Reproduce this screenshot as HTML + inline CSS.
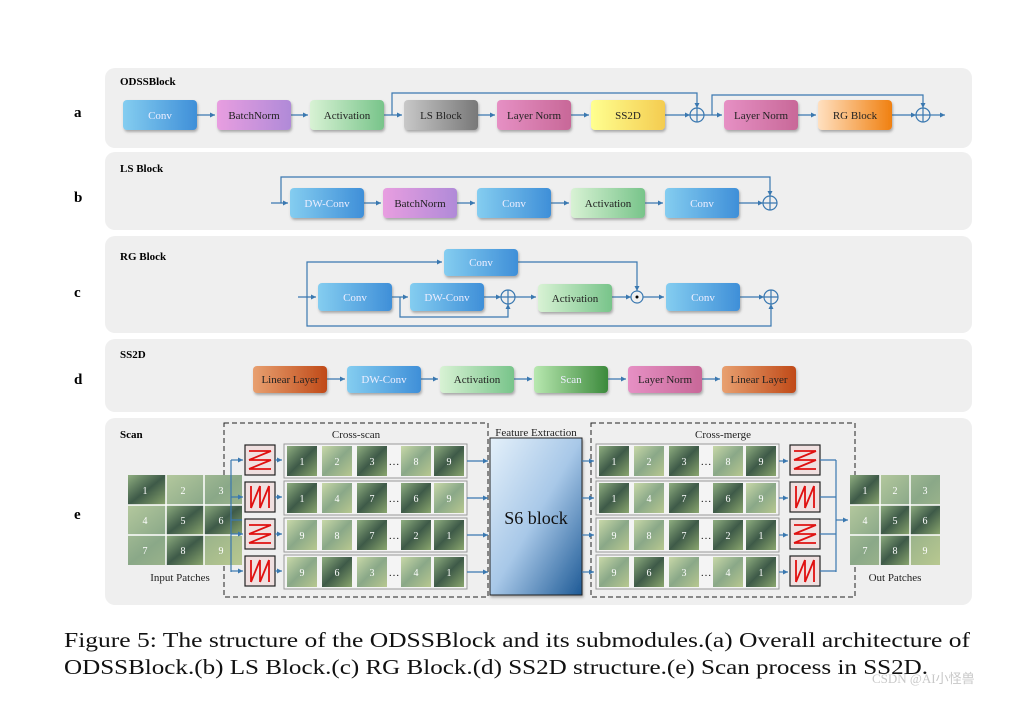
<!DOCTYPE html><html><head><meta charset="utf-8"><style>
body{margin:0;background:#fff;width:1026px;height:696px;overflow:hidden}
svg text{font-family:"Liberation Serif",serif}
</style></head><body>
<svg width="1026" height="696" viewBox="0 0 1026 696" xmlns="http://www.w3.org/2000/svg">
<defs>
<linearGradient id="conv" x1="0" y1="0" x2="1" y2="0"><stop offset="0" stop-color="#84cdf0"/><stop offset="1" stop-color="#3f8fd8"/></linearGradient>
<linearGradient id="bn" x1="0" y1="0" x2="1" y2="0"><stop offset="0" stop-color="#e89ee0"/><stop offset="1" stop-color="#b08ad8"/></linearGradient>
<linearGradient id="act" x1="0" y1="0" x2="1" y2="0"><stop offset="0" stop-color="#d8f2d4"/><stop offset="1" stop-color="#78c48a"/></linearGradient>
<linearGradient id="ls" x1="0" y1="0" x2="1" y2="0"><stop offset="0" stop-color="#c8c8c8"/><stop offset="1" stop-color="#787878"/></linearGradient>
<linearGradient id="ln" x1="0" y1="0" x2="1" y2="0"><stop offset="0" stop-color="#e690c4"/><stop offset="1" stop-color="#c86898"/></linearGradient>
<linearGradient id="ss" x1="0" y1="0" x2="1" y2="0"><stop offset="0" stop-color="#ffff90"/><stop offset="1" stop-color="#f4cc50"/></linearGradient>
<linearGradient id="rg" x1="0" y1="0" x2="1" y2="0"><stop offset="0" stop-color="#ffe0c0"/><stop offset="1" stop-color="#f08010"/></linearGradient>
<linearGradient id="lin" x1="0" y1="0" x2="1" y2="0"><stop offset="0" stop-color="#e8a070"/><stop offset="1" stop-color="#c04a18"/></linearGradient>
<linearGradient id="scan" x1="0" y1="0" x2="1" y2="0"><stop offset="0" stop-color="#b8e8b0"/><stop offset="1" stop-color="#3c8a3c"/></linearGradient>
<linearGradient id="s6" x1="0" y1="0" x2="1" y2="1"><stop offset="0" stop-color="#e4f0fa"/><stop offset="0.5" stop-color="#a8c8e8"/><stop offset="1" stop-color="#1e5a96"/></linearGradient>
<linearGradient id="pa" x1="0" y1="0" x2="1" y2="1"><stop offset="0" stop-color="#8fae80"/><stop offset="0.5" stop-color="#3e5a48"/><stop offset="1" stop-color="#8aa66e"/></linearGradient>
<linearGradient id="pb" x1="0" y1="0" x2="1" y2="1"><stop offset="0" stop-color="#c8d8a8"/><stop offset="0.5" stop-color="#8aa888"/><stop offset="1" stop-color="#b8c890"/></linearGradient>
<marker id="ar" markerWidth="6" markerHeight="6" refX="5" refY="3" orient="auto" markerUnits="userSpaceOnUse"><path d="M0,0.5 L5,3 L0,5.5z" fill="#3a78b0"/></marker>
<filter id="sh" x="-10%" y="-10%" width="130%" height="140%"><feDropShadow dx="1" dy="2" stdDeviation="1.2" flood-color="#555" flood-opacity="0.45"/></filter>
</defs>
<g fill="#efefef">
<rect x="105" y="68" width="867" height="80" rx="10"/>
<rect x="105" y="152" width="867" height="78" rx="10"/>
<rect x="105" y="236" width="867" height="97" rx="10"/>
<rect x="105" y="339" width="867" height="73" rx="10"/>
<rect x="105" y="418" width="867" height="187" rx="10"/>
</g>
<g font-weight="bold" font-size="11" fill="#000">
<text x="120" y="85">ODSSBlock</text><text x="120" y="172">LS Block</text><text x="120" y="260">RG Block</text><text x="120" y="358">SS2D</text><text x="120" y="438">Scan</text>
</g>
<g font-weight="bold" font-size="15" fill="#000">
<text x="74" y="117">a</text><text x="74" y="202">b</text><text x="74" y="297">c</text><text x="74" y="384">d</text><text x="74" y="519">e</text>
</g>
<g stroke="#3a78b0" stroke-width="1.2" fill="none" marker-end="url(#ar)">
<path d="M197 115H215"/><path d="M291 115H308"/><path d="M384 115H402"/><path d="M478 115H495"/><path d="M571 115H589"/><path d="M665 115H690"/><path d="M704 115H722"/><path d="M798 115H816"/><path d="M892 115H916"/><path d="M930 115H945"/>
<path d="M392 115V93H697V108"/>
<path d="M712 115V95H923V108"/>
<path d="M271 203H288"/><path d="M364 203H381"/><path d="M457 203H475"/><path d="M551 203H569"/><path d="M645 203H663"/><path d="M739 203H763"/>
<path d="M281 203V177H770V196"/>
<path d="M298 297H316"/><path d="M392 297H408"/><path d="M484 297H501"/><path d="M515 297H536"/><path d="M612 297H631"/><path d="M643 297H664"/><path d="M740 297H764"/>
<path d="M307 297V262H442"/>
<path d="M307 297V326H771V304"/>
<path d="M518 262H637V291"/>
<path d="M400 297V317H508V304"/>
<path d="M327 379H345"/><path d="M421 379H438"/><path d="M514 379H532"/><path d="M608 379H626"/><path d="M702 379H720"/>
</g>
<g stroke="#3a78b0" stroke-width="1.2" fill="none">
<circle cx="697" cy="115" r="7"/><path d="M690 115H704M697 108V122"/>
<circle cx="923" cy="115" r="7"/><path d="M916 115H930M923 108V122"/>
<circle cx="770" cy="203" r="7"/><path d="M763 203H777M770 196V210"/>
<circle cx="508" cy="297" r="7"/><path d="M501 297H515M508 290V304"/>
<circle cx="637" cy="297" r="6"/>
<circle cx="771" cy="297" r="7"/><path d="M764 297H778M771 290V304"/>
</g>
<circle cx="637" cy="297" r="1.5" fill="#000"/>
<g filter="url(#sh)">
<rect x="123" y="100" width="74" height="30" rx="4" fill="url(#conv)"/>
<rect x="217" y="100" width="74" height="30" rx="4" fill="url(#bn)"/>
<rect x="310" y="100" width="74" height="30" rx="4" fill="url(#act)"/>
<rect x="404" y="100" width="74" height="30" rx="4" fill="url(#ls)"/>
<rect x="497" y="100" width="74" height="30" rx="4" fill="url(#ln)"/>
<rect x="591" y="100" width="74" height="30" rx="4" fill="url(#ss)"/>
<rect x="724" y="100" width="74" height="30" rx="4" fill="url(#ln)"/>
<rect x="818" y="100" width="74" height="30" rx="4" fill="url(#rg)"/>
<rect x="290" y="188" width="74" height="30" rx="4" fill="url(#conv)"/>
<rect x="383" y="188" width="74" height="30" rx="4" fill="url(#bn)"/>
<rect x="477" y="188" width="74" height="30" rx="4" fill="url(#conv)"/>
<rect x="571" y="188" width="74" height="30" rx="4" fill="url(#act)"/>
<rect x="665" y="188" width="74" height="30" rx="4" fill="url(#conv)"/>
<rect x="444" y="249" width="74" height="27" rx="4" fill="url(#conv)"/>
<rect x="318" y="283" width="74" height="28" rx="4" fill="url(#conv)"/>
<rect x="410" y="283" width="74" height="28" rx="4" fill="url(#conv)"/>
<rect x="538" y="284" width="74" height="28" rx="4" fill="url(#act)"/>
<rect x="666" y="283" width="74" height="28" rx="4" fill="url(#conv)"/>
<rect x="253" y="366" width="74" height="27" rx="4" fill="url(#lin)"/>
<rect x="347" y="366" width="74" height="27" rx="4" fill="url(#conv)"/>
<rect x="440" y="366" width="74" height="27" rx="4" fill="url(#act)"/>
<rect x="534" y="366" width="74" height="27" rx="4" fill="url(#scan)"/>
<rect x="628" y="366" width="74" height="27" rx="4" fill="url(#ln)"/>
<rect x="722" y="366" width="74" height="27" rx="4" fill="url(#lin)"/>
</g>
<g font-size="11" text-anchor="middle" fill="#222">
<text x="160" y="119" fill="#eef">Conv</text><text x="254" y="119">BatchNorm</text><text x="347" y="119">Activation</text><text x="441" y="119">LS Block</text><text x="534" y="119">Layer Norm</text><text x="628" y="119">SS2D</text><text x="761" y="119">Layer Norm</text><text x="855" y="119">RG Block</text>
<text x="327" y="207" fill="#eef">DW-Conv</text><text x="420" y="207">BatchNorm</text><text x="514" y="207" fill="#eef">Conv</text><text x="608" y="207">Activation</text><text x="702" y="207" fill="#eef">Conv</text>
<text x="481" y="266" fill="#eef">Conv</text><text x="355" y="301" fill="#eef">Conv</text><text x="447" y="301" fill="#eef">DW-Conv</text><text x="575" y="302">Activation</text><text x="703" y="301" fill="#eef">Conv</text>
<text x="290" y="383">Linear Layer</text><text x="384" y="383" fill="#eef">DW-Conv</text><text x="477" y="383">Activation</text><text x="571" y="383" fill="#eef">Scan</text><text x="665" y="383">Layer Norm</text><text x="759" y="383">Linear Layer</text>
</g>
<rect x="224" y="423" width="264" height="174" fill="none" stroke="#222" stroke-dasharray="5,3"/>
<rect x="591" y="423" width="264" height="174" fill="none" stroke="#222" stroke-dasharray="5,3"/>
<rect x="490" y="438" width="92" height="157" fill="url(#s6)" stroke="#222" filter="url(#sh)"/>
<g font-size="11" text-anchor="middle" fill="#222">
<text x="356" y="438">Cross-scan</text><text x="536" y="436">Feature Extraction</text><text x="723" y="438">Cross-merge</text>
<text x="180" y="581">Input Patches</text><text x="895" y="581">Out Patches</text>
</g>
<text x="536" y="524" font-size="18" text-anchor="middle" fill="#111">S6 block</text>
<g>
<rect x="128" y="475" width="114" height="90" fill="url(#pb)"/>
<rect x="128" y="475" width="38" height="30" fill="url(#pa)"/><rect x="166" y="505" width="38" height="30" fill="url(#pa)"/><rect x="204" y="505" width="38" height="30" fill="url(#pa)"/><rect x="166" y="535" width="38" height="30" fill="url(#pa)"/>
<path d="M166 475V565M204 475V565M128 505H242M128 535H242" stroke="#fff" stroke-width="1.5"/>
<rect x="850" y="475" width="90" height="90" fill="url(#pb)"/>
<rect x="850" y="475" width="30" height="30" fill="url(#pa)"/><rect x="880" y="505" width="30" height="30" fill="url(#pa)"/><rect x="910" y="505" width="30" height="30" fill="url(#pa)"/><rect x="880" y="535" width="30" height="30" fill="url(#pa)"/>
<path d="M880 475V565M910 475V565M850 505H940M850 535H940" stroke="#fff" stroke-width="1.5"/>
</g>
<g font-size="10" fill="#fff" text-anchor="middle">
<text x="145" y="494">1</text><text x="183" y="494">2</text><text x="221" y="494">3</text><text x="145" y="524">4</text><text x="183" y="524">5</text><text x="221" y="524">6</text><text x="145" y="554">7</text><text x="183" y="554">8</text><text x="221" y="554">9</text>
<text x="865" y="494">1</text><text x="895" y="494">2</text><text x="925" y="494">3</text><text x="865" y="524">4</text><text x="895" y="524">5</text><text x="925" y="524">6</text><text x="865" y="554">7</text><text x="895" y="554">8</text><text x="925" y="554">9</text>
</g>
<g fill="#f4f4f4" stroke="#999">
<rect x="284" y="444" width="183" height="34"/><rect x="284" y="481" width="183" height="34"/><rect x="284" y="518" width="183" height="34"/><rect x="284" y="555" width="183" height="34"/>
<rect x="596" y="444" width="183" height="34"/><rect x="596" y="481" width="183" height="34"/><rect x="596" y="518" width="183" height="34"/><rect x="596" y="555" width="183" height="34"/>
</g>
<g fill="url(#pa)">
<rect x="287" y="446" width="30" height="30"/><rect x="322" y="446" width="30" height="30" fill="url(#pb)"/><rect x="357" y="446" width="30" height="30"/><rect x="401" y="446" width="30" height="30" fill="url(#pb)"/><rect x="434" y="446" width="30" height="30"/>
<rect x="287" y="483" width="30" height="30"/><rect x="322" y="483" width="30" height="30" fill="url(#pb)"/><rect x="357" y="483" width="30" height="30"/><rect x="401" y="483" width="30" height="30"/><rect x="434" y="483" width="30" height="30" fill="url(#pb)"/>
<rect x="287" y="520" width="30" height="30" fill="url(#pb)"/><rect x="322" y="520" width="30" height="30" fill="url(#pb)"/><rect x="357" y="520" width="30" height="30"/><rect x="401" y="520" width="30" height="30"/><rect x="434" y="520" width="30" height="30"/>
<rect x="287" y="557" width="30" height="30" fill="url(#pb)"/><rect x="322" y="557" width="30" height="30"/><rect x="357" y="557" width="30" height="30" fill="url(#pb)"/><rect x="401" y="557" width="30" height="30" fill="url(#pb)"/><rect x="434" y="557" width="30" height="30"/>
<rect x="599" y="446" width="30" height="30"/><rect x="634" y="446" width="30" height="30" fill="url(#pb)"/><rect x="669" y="446" width="30" height="30"/><rect x="713" y="446" width="30" height="30" fill="url(#pb)"/><rect x="746" y="446" width="30" height="30"/>
<rect x="599" y="483" width="30" height="30"/><rect x="634" y="483" width="30" height="30" fill="url(#pb)"/><rect x="669" y="483" width="30" height="30"/><rect x="713" y="483" width="30" height="30"/><rect x="746" y="483" width="30" height="30" fill="url(#pb)"/>
<rect x="599" y="520" width="30" height="30" fill="url(#pb)"/><rect x="634" y="520" width="30" height="30" fill="url(#pb)"/><rect x="669" y="520" width="30" height="30"/><rect x="713" y="520" width="30" height="30"/><rect x="746" y="520" width="30" height="30"/>
<rect x="599" y="557" width="30" height="30" fill="url(#pb)"/><rect x="634" y="557" width="30" height="30"/><rect x="669" y="557" width="30" height="30" fill="url(#pb)"/><rect x="713" y="557" width="30" height="30" fill="url(#pb)"/><rect x="746" y="557" width="30" height="30"/>
</g>
<g font-size="10" fill="#fff" text-anchor="middle">
<text x="302" y="465">1</text><text x="337" y="465">2</text><text x="372" y="465">3</text><text x="416" y="465">8</text><text x="449" y="465">9</text>
<text x="302" y="502">1</text><text x="337" y="502">4</text><text x="372" y="502">7</text><text x="416" y="502">6</text><text x="449" y="502">9</text>
<text x="302" y="539">9</text><text x="337" y="539">8</text><text x="372" y="539">7</text><text x="416" y="539">2</text><text x="449" y="539">1</text>
<text x="302" y="576">9</text><text x="337" y="576">6</text><text x="372" y="576">3</text><text x="416" y="576">4</text><text x="449" y="576">1</text>
<text x="614" y="465">1</text><text x="649" y="465">2</text><text x="684" y="465">3</text><text x="728" y="465">8</text><text x="761" y="465">9</text>
<text x="614" y="502">1</text><text x="649" y="502">4</text><text x="684" y="502">7</text><text x="728" y="502">6</text><text x="761" y="502">9</text>
<text x="614" y="539">9</text><text x="649" y="539">8</text><text x="684" y="539">7</text><text x="728" y="539">2</text><text x="761" y="539">1</text>
<text x="614" y="576">9</text><text x="649" y="576">6</text><text x="684" y="576">3</text><text x="728" y="576">4</text><text x="761" y="576">1</text>
</g>
<g font-size="11" fill="#222" text-anchor="middle">
<text x="394" y="465">…</text><text x="394" y="502">…</text><text x="394" y="539">…</text><text x="394" y="576">…</text>
<text x="706" y="465">…</text><text x="706" y="502">…</text><text x="706" y="539">…</text><text x="706" y="576">…</text>
</g>
<g fill="#f0e0e0" stroke="#222" stroke-width="1.2">
<rect x="245" y="445" width="30" height="30"/><rect x="245" y="482" width="30" height="30"/><rect x="245" y="519" width="30" height="30"/><rect x="245" y="556" width="30" height="30"/>
<rect x="790" y="445" width="30" height="30"/><rect x="790" y="482" width="30" height="30"/><rect x="790" y="519" width="30" height="30"/><rect x="790" y="556" width="30" height="30"/>
</g>
<g stroke="#e01010" stroke-width="1.8" fill="none">
<path d="M249 451H271M249 460H271M249 469H271M271 451L249 460M271 460L249 469"/>
<path d="M251 486V508M260 486V508M269 486V508M251 508L260 486M260 508L269 486"/>
<path d="M249 525H271M249 534H271M249 543H271M271 525L249 534M271 534L249 543"/>
<path d="M251 560V582M260 560V582M269 560V582M251 582L260 560M260 582L269 560"/>
<path d="M794 451H816M794 460H816M794 469H816M816 451L794 460M816 460L794 469"/>
<path d="M796 486V508M805 486V508M814 486V508M796 508L805 486M805 508L814 486"/>
<path d="M794 525H816M794 534H816M794 543H816M816 525L794 534M816 534L794 543"/>
<path d="M796 560V582M805 560V582M814 560V582M796 582L805 560M805 582L814 560"/>
</g>
<g stroke="#3a78b0" stroke-width="1.2" fill="none">
<path d="M242 520H231M231 460V572"/>
<path d="M820 460H836M820 497H836M820 534H836M820 571H836M836 460V572"/>
</g>
<g stroke="#3a78b0" stroke-width="1.2" fill="none" marker-end="url(#ar)">
<path d="M231 460H243"/><path d="M231 497H243"/><path d="M231 534H243"/><path d="M231 571H243"/>
<path d="M275 460H282"/><path d="M275 497H282"/><path d="M275 534H282"/><path d="M275 571H282"/>
<path d="M467 461H488"/><path d="M467 498H488"/><path d="M467 535H488"/><path d="M467 572H488"/>
<path d="M582 461H594"/><path d="M582 498H594"/><path d="M582 535H594"/><path d="M582 572H594"/>
<path d="M779 461H788"/><path d="M779 498H788"/><path d="M779 535H788"/><path d="M779 572H788"/>
<path d="M836 520H848"/>
</g>
<g font-size="21" fill="#111">
<text x="64" y="647" textLength="906" lengthAdjust="spacingAndGlyphs">Figure 5: The structure of the ODSSBlock and its submodules.(a) Overall architecture of</text>
<text x="64" y="674" textLength="864" lengthAdjust="spacingAndGlyphs">ODSSBlock.(b) LS Block.(c) RG Block.(d) SS2D structure.(e) Scan process in SS2D.</text>
</g>
<text x="872" y="683" font-size="13" fill="#c8c8c8" font-family="Liberation Sans, Noto Sans CJK SC, sans-serif">CSDN @AI小怪兽</text>
</svg>
</body></html>
